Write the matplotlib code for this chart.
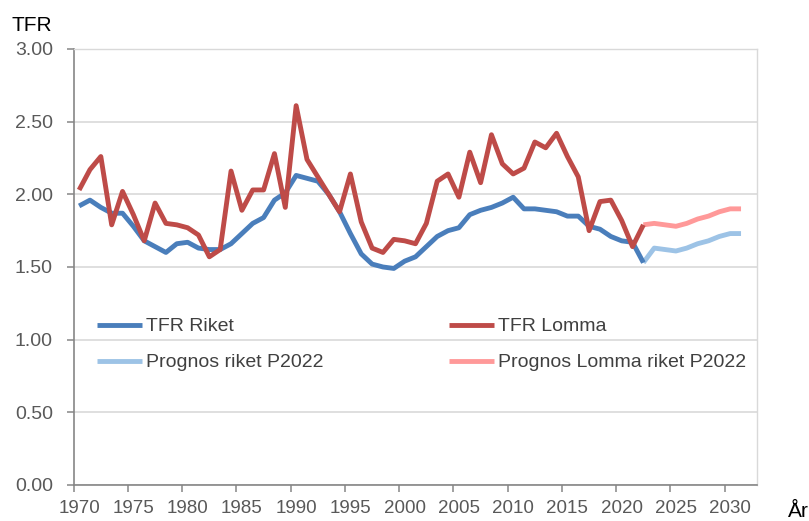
import matplotlib
matplotlib.use("Agg")
import matplotlib.pyplot as plt
import numpy as np

plt.rcParams["font.family"] = ["Liberation Sans", "DejaVu Sans"]

# ── Data ───────────────────────────────────────────────────────────
years_hist = np.arange(1970, 2023)
tfr_riket = [1.92, 1.96, 1.91, 1.87, 1.87, 1.78, 1.68, 1.64, 1.60, 1.66,
             1.67, 1.63, 1.62, 1.62, 1.66, 1.73, 1.80, 1.84, 1.96, 2.01,
             2.13, 2.11, 2.09, 2.00, 1.88, 1.73, 1.59, 1.52, 1.50, 1.49,
             1.54, 1.57, 1.64, 1.71, 1.75, 1.77, 1.86, 1.89, 1.91, 1.94,
             1.98, 1.90, 1.90, 1.89, 1.88, 1.85, 1.85, 1.78, 1.76, 1.71,
             1.68, 1.67, 1.53]
tfr_lomma = [2.03, 2.17, 2.26, 1.79, 2.02, 1.86, 1.68, 1.94, 1.80, 1.79,
             1.77, 1.72, 1.57, 1.62, 2.16, 1.89, 2.03, 2.03, 2.28, 1.91,
             2.61, 2.24, 2.12, 2.00, 1.88, 2.14, 1.81, 1.63, 1.60, 1.69,
             1.68, 1.66, 1.80, 2.09, 2.14, 1.98, 2.29, 2.08, 2.41, 2.21,
             2.14, 2.18, 2.36, 2.32, 2.42, 2.26, 2.12, 1.75, 1.95, 1.96,
             1.82, 1.64, 1.79]

years_prog = np.arange(2022, 2032)
prog_riket = [1.53, 1.63, 1.62, 1.61, 1.63, 1.66, 1.68, 1.71, 1.73, 1.73]
prog_lomma = [1.79, 1.80, 1.79, 1.78, 1.80, 1.83, 1.85, 1.88, 1.90, 1.90]

tick_years = np.arange(1970, 2031, 5)
y_ticks = np.arange(0, 3.01, 0.5)

# ── Figure ─────────────────────────────────────────────────────────
fig = plt.figure(figsize=(8.09, 5.21), dpi=100)
ax = fig.add_axes([0.0911, 0.0691, 0.845, 0.8369])

lw = 3.5
ax.plot(years_hist, tfr_riket, color="#4A7EBB", lw=lw, label="TFR Riket",
        solid_capstyle="butt", zorder=4)
ax.plot(years_prog, prog_riket, color="#9DC3E6", lw=lw,
        label="Prognos riket P2022", solid_capstyle="butt", zorder=3)
ax.plot(years_hist, tfr_lomma, color="#BE4B48", lw=lw, label="TFR Lomma",
        solid_capstyle="butt", zorder=5)
ax.plot(years_prog, prog_lomma, color="#FF9999", lw=lw,
        label="Prognos Lomma riket P2022", solid_capstyle="butt", zorder=3)

ax.set_xlim(1969.5, 2032.5)
ax.set_ylim(0, 3.0)

# category-style axis: labels at year centres, tick marks at boundaries
ax.set_xticks(tick_years)
ax.set_xticklabels([str(y) for y in tick_years])
ax.set_xticks(tick_years - 0.5, minor=True)
ax.tick_params(axis="x", which="major", length=0, pad=11,
               labelsize=13.5, labelcolor="#595959")
ax.tick_params(axis="x", which="minor", length=5, width=1.1,
               color="#868686", direction="out")

ax.set_yticks(y_ticks)
ax.set_yticklabels([f"{v:.2f}" for v in y_ticks])
ax.tick_params(axis="y", length=5, width=1.1, color="#868686",
               direction="out", pad=10, labelsize=14, labelcolor="#595959")

ax.grid(axis="y", color="#D9D9D9", lw=1.2)
ax.set_axisbelow(True)
for side in ["left", "bottom"]:
    ax.spines[side].set_color("#868686")
    ax.spines[side].set_linewidth(1.2)
for side in ["top", "right"]:
    ax.spines[side].set_color("#D9D9D9")
    ax.spines[side].set_linewidth(1.0)

leg = ax.legend(ncol=2, frameon=False, loc="center left",
                bbox_to_anchor=(0.034, 0.322), borderpad=0, borderaxespad=0,
                handlelength=2.3, handletextpad=0.2, columnspacing=6.5,
                labelspacing=0.95, fontsize=14)
for t in leg.get_texts():
    t.set_color("#404040")

fig.text(12 / 809, 1 - 16 / 521, "TFR", fontsize=15, va="top", ha="left")
fig.text(788 / 809, 1 - 502 / 521, "År", fontsize=15, va="top", ha="left")

fig.savefig("out.png", dpi=100)
